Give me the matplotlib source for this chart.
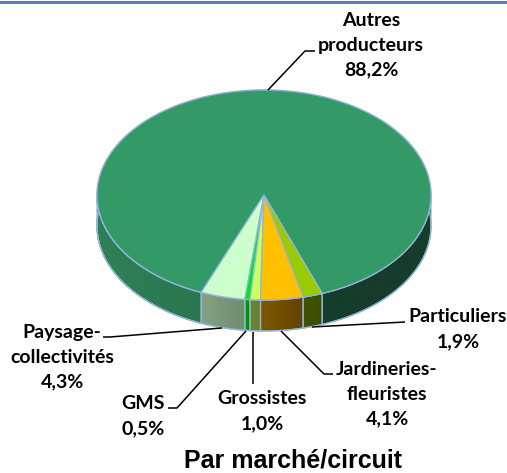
import numpy as np
import matplotlib
matplotlib.use("Agg")
import matplotlib.pyplot as plt
from matplotlib.patches import Polygon, Rectangle
from matplotlib.colors import LinearSegmentedColormap

categories = ["Autres\nproducteurs", "Paysage-\ncollectivités", "GMS", "Grossistes", "Jardineries-\nfleuristes", "Particuliers"]
values = [88.2, 4.3, 0.5, 1.0, 4.1, 1.9]
labels = ["88,2%", "4,3%", "0,5%", "1,0%", "4,1%", "1,9%"]
top_colors = ["#339966", "#CCFFCC", "#00E61E", "#CCFF66", "#FFC000", "#99CC00"]
side_left = ["#2F8057", "#84A284", "#00A000", "#6B8533", "#7F5800", "#415200"]
side_right = ["#1F5F3E", "#6F8C6F", "#008C00", "#66802E", "#5F4300", "#3D4D00"]
dark_side = "#163C2B"

W, H = 507, 473
CX, CY, RX, RY, DEPTH = 264, 195, 167, 105, 31
START = 290.4
EDGE = "#93B5DA"

fig = plt.figure(figsize=(W / 100, H / 100), dpi=100)
ax = fig.add_axes([0, 0, 1, 1])

ax.add_patch(Rectangle((0, 1), W, 3, facecolor="#4F81BD", edgecolor="none", zorder=1))


def pt(a, dz=0):
    a = np.radians(a)
    return CX + RX * np.cos(a), CY - RY * np.sin(a) + dz


def wall(a_start, a_end, c_left, c_right):
    """One stretch of the outer wall; the colour runs from left to right."""
    arc = np.linspace(a_start, a_end, max(3, int((a_end - a_start) * 2)))
    outline = [pt(t) for t in arc] + [pt(t, DEPTH) for t in arc[::-1]]
    xs, ys = zip(*outline)
    shape = Polygon(outline, closed=True, facecolor="none", edgecolor=EDGE, lw=0.9, zorder=3)
    ax.add_patch(shape)
    cmap = LinearSegmentedColormap.from_list("w", [c_left, c_right])
    im = ax.imshow(np.linspace(0, 1, 128)[None, :], cmap=cmap, aspect="auto",
                   extent=(min(xs), max(xs), max(ys), min(ys)), zorder=2, interpolation="bilinear")
    im.set_clip_path(shape)


bounds = START + np.cumsum([0] + values) * 3.6
# big slice: the part left of the first cut, then the dark part right of the start
wall(180, bounds[1], side_left[0], side_right[0])
wall(START, 360, dark_side, dark_side)
for i in range(1, len(values)):
    wall(bounds[i], bounds[i + 1], side_left[i], side_right[i])

# top surface
for i in range(len(values)):
    arc_t = np.linspace(bounds[i], bounds[i + 1], max(3, int((bounds[i + 1] - bounds[i]) * 2)))
    p = [(CX, CY)] + [pt(t) for t in arc_t]
    ax.add_patch(Polygon(p, closed=True, facecolor=top_colors[i], edgecolor=EDGE, lw=0.9, zorder=4))

# leader lines
leaders = [
    [(268, 90), (305, 51), (315, 51)],
    [(222, 328), (110, 337), (103, 337)],
    [(246, 331), (177, 408), (168, 408)],
    [(253, 332), (253, 384)],
    [(281, 331), (324, 374), (333, 374)],
    [(312, 327), (405, 322)],
]
for line in leaders:
    xs, ys = zip(*line)
    ax.plot(xs, ys, color="black", lw=1.1, zorder=5, solid_capstyle="butt")

FONT = dict(family="Lato", weight="bold", fontsize=14, color="black", ha="center", va="center", linespacing=1.54)
label_pos = [(371, 45), (62, 357), (143, 416), (262, 411), (387, 394), (458, 329)]
for cat, lab, (x, y) in zip(categories, labels, label_pos):
    ax.text(x, y, f"{cat}\n{lab}", **FONT)

ax.text(293, 460, "Par marché/circuit", family="Liberation Sans", weight="bold", fontsize=18, ha="center", va="center", color="black")

ax.set_xlim(0, W)
ax.set_ylim(H, 0)
ax.axis("off")
fig.savefig("out.png", dpi=100)
